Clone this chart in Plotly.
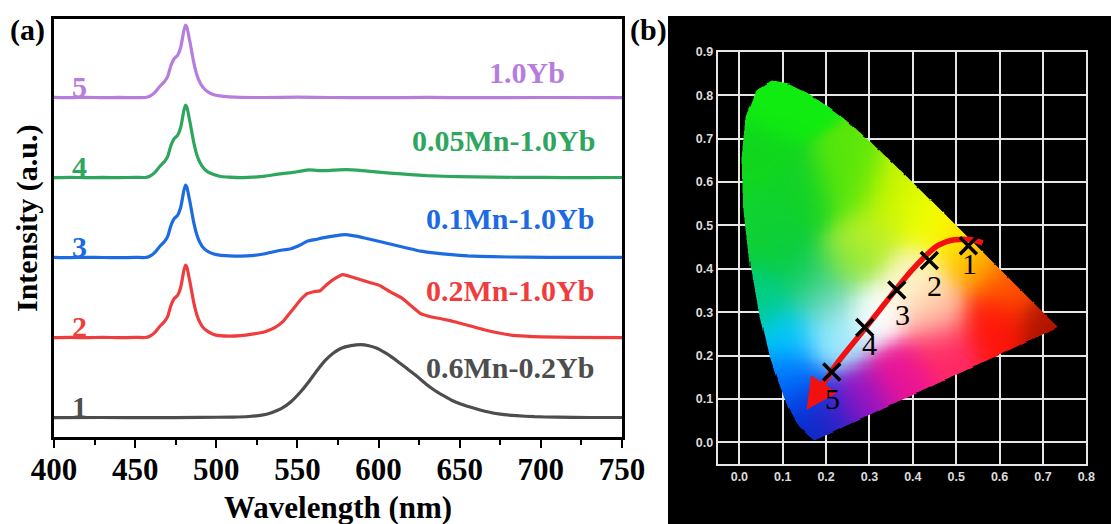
import numpy as np
import plotly.graph_objects as go

# ---------------- Panel (a) data : emission spectra ----------------
OFFSET = 80.0
wl_yb = [400, 410, 420, 430, 440, 450, 456, 459, 462, 465, 468, 470, 472, 474, 476, 478,
         479, 480, 481, 482, 483, 484, 486, 488, 490, 492, 495, 498]
s5_peak = [0.3, 0, 0.4, 0, 0.3, 0, 0.2, 1.5, 5, 11, 16, 21, 32, 39, 42, 50,
           58, 67, 72.7, 70, 62, 54, 36, 23, 15, 10, 5.5, 3.2]
s4_peak = [0, 0.4, 0, 0.3, 0, 0.4, 0.2, 1.5, 5, 11, 16, 21, 32, 39, 42, 50,
           58, 67, 72.7, 70, 62, 54, 36, 23, 15, 10, 5.5, 3.4]
s3_peak = [0.3, 0, 0.4, 0.2, 0, 0.3, 0.2, 1.5, 5, 11, 16, 21, 32, 39, 42, 50,
           58, 67, 72.7, 70, 62, 54, 36, 23, 15, 10, 6, 4]
s2_peak = [0, 0.3, 0, 0.4, 0, 0.3, 0.2, 1.5, 5, 11, 16, 21, 32, 39, 42, 50,
           58, 67, 72.7, 70, 62, 54, 36, 23, 15, 10, 6, 3.5]

wl5_tail = [502, 508, 515, 530, 550, 570, 600, 630, 660, 700, 750]
s5_tail = [1.8, 0.8, 0.3, 0.2, 0.5, 0.2, 0, 0.3, 0, 0.2, 0]

wl4_tail = [502, 508, 515, 522, 530, 538, 546, 552, 557, 565, 572, 580, 590, 600, 614,
            630, 649, 670, 700, 730, 750]
s4_tail = [1.5, 0.5, 0, 0.5, 1.5, 3.5, 5, 6.5, 7.8, 7, 7.5, 8, 7, 5.5, 3.8,
           2, 1, 0.5, 0.3, 0, 0.2]

wl3_tail = [502, 508, 515, 522, 530, 538, 546, 552, 556, 562, 568, 574, 579, 585, 592,
            600, 609, 618, 626, 634, 645, 655, 670, 690, 720, 750]
s3_tail = [2.5, 1.8, 1.5, 2, 4, 7, 9, 13, 16.5, 18.5, 20.5, 22, 23, 21.8, 19.5,
           16.5, 13, 9.5, 6.5, 4.8, 3, 1.8, 1, 0.5, 0.3, 0.4]

wl2_tail = [502, 508, 515, 522, 530, 536, 541, 545, 549, 552, 556, 560, 564, 568, 573,
            578, 583, 588, 595, 601, 607, 614, 620, 626, 632, 640, 648, 656, 665, 675,
            685, 700, 720, 750]
s2_tail = [2, 1.5, 2, 3.5, 6, 10, 16, 24, 32, 38, 44, 46, 47, 53, 59,
           63, 61, 58.5, 55, 52, 46, 40, 32, 24, 21, 18.5, 15.5, 12, 8, 4.5,
           2, 0.8, 0.3, 0]

wl1 = [400, 430, 460, 490, 510, 520, 528, 534, 540, 546, 552, 557, 562, 567, 572, 577,
       583, 589, 594, 599, 605, 612, 618, 624, 629, 634, 640, 645, 651, 659, 667, 675,
       685, 696, 710, 730, 750]
s1 = [0, 0.2, 0, 0.3, 0.6, 1.2, 2.5, 5, 9, 16, 26, 36, 47, 57, 64.5, 69.5,
      72, 73, 72, 69.5, 64, 56, 48.5, 41, 34, 28, 22, 17.5, 13.5, 9.5, 6, 3.5,
      2, 1, 0.5, 0.2, 0.2]

series_names = ["0.6Mn-0.2Yb", "0.2Mn-1.0Yb", "0.1Mn-1.0Yb", "0.05Mn-1.0Yb", "1.0Yb"]
series_nums = ["1", "2", "3", "4", "5"]
series_colors = ["#4d4d4d", "#ef3d3d", "#1c6be3", "#2fa65e", "#b67ddd"]
name_pos_x = [680.7, 680.7, 680.7, 677.0, 691.5]
name_pos_y = [50.7, 127.7, 199.7, 277.7, 345.2]

# ---------------- Panel (b) data : CIE chromaticity ----------------
cie_x = [0.528, 0.438, 0.363, 0.289, 0.213]
cie_y = [0.453, 0.419, 0.351, 0.265, 0.162]
cie_lbl_x = [0.530, 0.451, 0.375, 0.301, 0.214]
cie_lbl_y = [0.413, 0.361, 0.294, 0.225, 0.102]
arrow_x = [0.561, 0.535, 0.516, 0.497, 0.478, 0.458, 0.440, 0.409, 0.379, 0.348, 0.318,
           0.287, 0.256, 0.226, 0.195, 0.180]
arrow_y = [0.460, 0.467, 0.468, 0.467, 0.463, 0.454, 0.440, 0.409, 0.375, 0.336, 0.298,
           0.259, 0.221, 0.183, 0.137, 0.112]
arrow_tip = (0.155, 0.075)

# CIE 1931 spectral locus (x, y), 380 nm .. 700 nm
locus_x = [0.1741, 0.1733, 0.1714, 0.1689, 0.1644, 0.1566, 0.1440, 0.1355, 0.1241, 0.1096,
           0.0913, 0.0687, 0.0454, 0.0235, 0.0082, 0.0039, 0.0139, 0.0389, 0.0743, 0.1142,
           0.1547, 0.1929, 0.2296, 0.2658, 0.3016, 0.3373, 0.3731, 0.4087, 0.4441, 0.4788,
           0.5125, 0.5448, 0.5752, 0.6029, 0.6270, 0.6658, 0.6915, 0.7079, 0.7190, 0.7260,
           0.7300, 0.7334, 0.7347]
locus_y = [0.0050, 0.0048, 0.0051, 0.0069, 0.0109, 0.0177, 0.0297, 0.0399, 0.0578, 0.0868,
           0.1327, 0.2007, 0.2950, 0.4127, 0.5384, 0.6548, 0.7502, 0.8120, 0.8338, 0.8262,
           0.8059, 0.7816, 0.7543, 0.7243, 0.6923, 0.6589, 0.6245, 0.5896, 0.5547, 0.5202,
           0.4866, 0.4544, 0.4242, 0.3965, 0.3725, 0.3340, 0.3083, 0.2920, 0.2809, 0.2740,
           0.2700, 0.2666, 0.2653]

# colours sampled from the reference diagram at chromaticity points
col_x = [0.08, 0.02, 0.15, 0.10, 0.25, 0.35, 0.42, 0.50, 0.55, 0.62, 0.72, 0.58, 0.47,
         0.37, 0.28, 0.21, 0.17, 0.15, 0.12, 0.11, 0.06, 0.16, 0.31, 0.40, 0.22, 0.25,
         0.05, 0.30, 0.45, 0.20]
col_y = [0.80, 0.65, 0.55, 0.45, 0.58, 0.55, 0.52, 0.47, 0.42, 0.36, 0.27, 0.27, 0.21,
         0.15, 0.10, 0.05, 0.01, 0.08, 0.15, 0.25, 0.33, 0.38, 0.30, 0.38, 0.24, 0.42,
         0.50, 0.47, 0.30, 0.33]
col_rgb = [(16, 235, 16), (16, 215, 30), (16, 210, 40), (10, 205, 60), (90, 230, 10),
           (200, 245, 0), (240, 255, 0), (255, 240, 0), (255, 170, 0), (255, 80, 0),
           (175, 20, 0), (255, 20, 10), (255, 40, 100), (235, 20, 150), (150, 20, 195),
           (60, 30, 200), (0, 40, 190), (0, 60, 225), (0, 120, 255), (0, 200, 255),
           (0, 205, 130), (10, 205, 90), (255, 255, 255), (255, 245, 200), (160, 235, 255),
           (140, 230, 60), (16, 210, 50), (190, 240, 40), (255, 200, 170), (120, 215, 200)]

# ---------------- figure ----------------
W, H = 1111, 524
def px(xp):
    return xp / W
def py(yp):
    return 1 - yp / H

fig = go.Figure()

curves = [
    (wl1, s1),
    (wl_yb + wl2_tail, s2_peak + s2_tail),
    (wl_yb + wl3_tail, s3_peak + s3_tail),
    (wl_yb + wl4_tail, s4_peak + s4_tail),
    (wl_yb + wl5_tail, s5_peak + s5_tail),
]
for i, (wl, s) in enumerate(curves):
    fig.add_trace(go.Scatter(
        x=wl, y=[v + i * OFFSET for v in s], mode="lines",
        line=dict(color=series_colors[i], width=3.2, shape="spline", smoothing=0.4),
        xaxis="x", yaxis="y", showlegend=False, hoverinfo="skip"))

serif = "Liberation Serif, Times New Roman, serif"
for i in range(5):
    fig.add_annotation(x=416, y=i * OFFSET + 11, xref="x", yref="y", text=series_nums[i],
                       showarrow=False, xanchor="center", yanchor="middle",
                       font=dict(family=serif, size=30, color=series_colors[i], weight="bold"))
    fig.add_annotation(x=name_pos_x[i], y=name_pos_y[i], xref="x", yref="y",
                       text=series_names[i], showarrow=False, xanchor="center", yanchor="middle",
                       font=dict(family=serif, size=30, color=series_colors[i], weight="bold"))

# CIE gamut image (colour field interpolated from the sampled colours, masked by the locus)
step = 0.0025
xg = np.arange(-0.05 + step / 2, 0.8, step)
yg = np.arange(-0.05 + step / 2, 0.9, step)
XX, YY = np.meshgrid(xg, yg)
lx = np.array(locus_x + [locus_x[0]])
ly = np.array(locus_y + [locus_y[0]])

def inside_poly(PX, PY):
    ins = np.zeros(PX.shape, dtype=bool)
    for k in range(len(lx) - 1):
        x1, y1, x2, y2 = lx[k], ly[k], lx[k + 1], ly[k + 1]
        cond = ((y1 > PY) != (y2 > PY))
        dy = (y2 - y1) if y2 != y1 else 1e-12
        xint = x1 + (PY - y1) * (x2 - x1) / dy
        ins ^= cond & (PX < xint)
    return ins

alpha = np.zeros(XX.shape)
for ox in (-0.25, 0.25):
    for oy in (-0.25, 0.25):
        alpha += inside_poly(XX + ox * step, YY + oy * step)
alpha /= 4.0

cx = np.array(col_x)[:, None, None]
cy = np.array(col_y)[:, None, None]
cc = np.array(col_rgb, dtype=float)
d2 = (XX[None] - cx) ** 2 + (YY[None] - cy) ** 2
wts = np.exp(-d2 / (2 * 0.045 ** 2)) + 1e-12
wts /= wts.sum(axis=0, keepdims=True)
rgb = np.einsum("kij,kc->ijc", wts, cc)

img = np.zeros(XX.shape + (4,))
img[..., :3] = np.round(np.clip(rgb, 0, 255))
img[..., 3] = np.round(alpha, 2)
img[alpha == 0, :3] = 0
fig.add_trace(go.Image(z=img.tolist(), colormodel="rgba", x0=xg[0], y0=yg[0], dx=step, dy=step,
                       xaxis="x2", yaxis="y2", hoverinfo="skip"))

fig.add_trace(go.Scatter(x=arrow_x, y=arrow_y, mode="lines",
                         line=dict(color="#f21010", width=5.5, shape="spline"),
                         xaxis="x2", yaxis="y2", showlegend=False, hoverinfo="skip"))
fig.add_annotation(x=arrow_tip[0], y=arrow_tip[1], ax=arrow_x[-1], ay=arrow_y[-1],
                   xref="x2", yref="y2", axref="x2", ayref="y2", text="", showarrow=True,
                   arrowhead=2, arrowsize=1.25, arrowwidth=5, arrowcolor="#f21010")
fig.add_trace(go.Scatter(x=cie_x, y=cie_y, mode="markers",
                         marker=dict(symbol="x-thin", size=17, line=dict(color="black", width=3.5)),
                         xaxis="x2", yaxis="y2", showlegend=False, hoverinfo="skip"))
for i in range(5):
    fig.add_annotation(x=cie_lbl_x[i], y=cie_lbl_y[i], xref="x2", yref="y2", text=series_nums[i],
                       showarrow=False, xanchor="center", yanchor="middle",
                       font=dict(family=serif, size=30, color="black"))

# black background panel (b)
fig.add_shape(type="rect", xref="paper", yref="paper", x0=px(668), x1=1.0, y0=0, y1=py(16),
              fillcolor="black", line=dict(width=0), layer="below")

# panel labels and axis titles
def paper_text(xp, yp, text, size, angle=0):
    fig.add_annotation(x=px(xp), y=py(yp), xref="paper", yref="paper", text=text,
                       showarrow=False, xanchor="center", yanchor="middle", textangle=angle,
                       font=dict(family=serif, size=size, color="black", weight="bold"))

paper_text(27, 30, "(a)", 30)
paper_text(648, 30, "(b)", 30)
paper_text(338, 507, "Wavelength (nm)", 31)
paper_text(27, 218, "Intensity (a.u.)", 30, -90)

fig.update_layout(
    width=W, height=H, margin=dict(l=0, r=0, t=0, b=0, autoexpand=False),
    paper_bgcolor="white", plot_bgcolor="rgba(0,0,0,0)",
    xaxis=dict(domain=[px(54), px(622)], range=[400, 750], showline=True, mirror=True,
               linecolor="black", linewidth=2.5, ticks="outside", ticklen=8, tickwidth=2,
               tickcolor="black", tick0=400, dtick=50, showgrid=False, zeroline=False,
               tickfont=dict(family=serif, size=31, color="black", weight="bold"),
               ticklabelstandoff=-5,
               minor=dict(ticks="outside", ticklen=5, tickwidth=2, dtick=25, tickcolor="black"),
               anchor="y", automargin=False),
    yaxis=dict(domain=[py(437), py(19)], range=[-19.3, 398.7], showline=True, mirror=True,
               linecolor="black", linewidth=2.5, ticks="", showticklabels=False,
               showgrid=False, zeroline=False, anchor="x", automargin=False),
    xaxis2=dict(domain=[px(717), px(1087)], range=[-0.05, 0.8], showline=True, mirror=True,
                linecolor="#e6e6e6", linewidth=2, showgrid=True, gridcolor="#e6e6e6",
                gridwidth=1.5, tick0=0, dtick=0.1, tickformat=".1f", ticks="", zeroline=False,
                tickfont=dict(family="Liberation Sans, Arial, sans-serif", size=12.5,
                              color="#dcdcdc", weight="bold"),
                anchor="y2", autorange=False, automargin=False),
    yaxis2=dict(domain=[py(464), py(52)], range=[-0.05, 0.9], showline=True, mirror=True,
                linecolor="#e6e6e6", linewidth=2, showgrid=True, gridcolor="#e6e6e6",
                gridwidth=1.5, tick0=0, dtick=0.1, tickformat=".1f", ticks="", zeroline=False,
                tickfont=dict(family="Liberation Sans, Arial, sans-serif", size=12.5,
                              color="#dcdcdc", weight="bold"),
                anchor="x2", autorange=False, automargin=False),
)

fig.write_html("out.html", config={"displayModeBar": False},
               post_script="document.body.style.margin='0px';")
